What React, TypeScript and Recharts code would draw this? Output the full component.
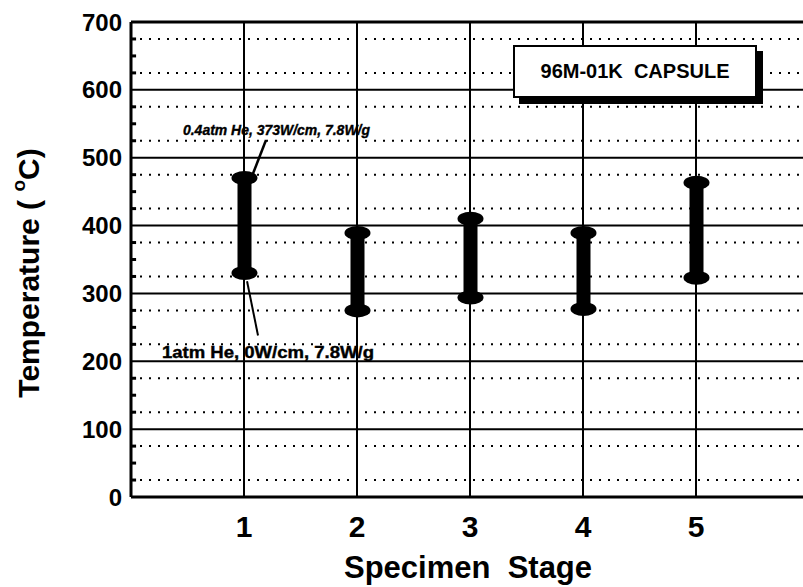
import { ComposedChart, Bar, XAxis, YAxis, CartesianGrid, ReferenceLine, ReferenceDot } from "recharts"

const stages = [1, 2, 3, 4, 5]
const lowTemps = [330, 275, 294, 277, 323]
const highTemps = [470, 389, 410, 389, 463]
const xTicks = [1, 2, 3, 4, 5]
const yTicks = [0, 100, 200, 300, 400, 500, 600, 700]
const minorY = [25, 50, 75, 125, 150, 175, 225, 250, 275, 325, 350, 375, 425, 450, 475, 525, 550, 575, 625, 650, 675]

const data = stages.map((s, i) => ({ stage: s, range: [lowTemps[i], highTemps[i]] }))

const font = "'Liberation Sans', Arial, sans-serif"

const Dumbbell = (props: any) => {
  const { x, y, width, height } = props
  const cx = x + width / 2
  return (
    <g fill="#000">
      <rect x={cx - 7} y={y} width={14} height={height} />
      <ellipse cx={cx} cy={y} rx={13} ry={7} />
      <ellipse cx={cx} cy={y + height} rx={13} ry={7} />
    </g>
  )
}

const XTick = (props: any) => {
  const { x, y, payload } = props
  return (
    <text x={x} y={y + 38} textAnchor="middle" fontFamily={font} fontWeight="bold" fontSize={30} fill="#000">
      {payload.value}
    </text>
  )
}

const YTick = (props: any) => {
  const { x, y, payload } = props
  return (
    <text x={x + 1} y={y} dy="0.36em" textAnchor="end" fontFamily={font} fontWeight="bold" fontSize={24} fill="#000">
      {payload.value}
    </text>
  )
}

export default function App() {
  return (
    <div
      style={{
        position: "absolute",
        left: 8,
        top: 8,
        width: 795,
        height: 579,
        overflow: "hidden",
        background: "#fff",
      }}
    >
      <ComposedChart width={830} height={579} data={data} margin={{ top: 14, right: 29, bottom: 0, left: 0 }}>
        <CartesianGrid horizontalValues={minorY} vertical={false} stroke="#000" strokeWidth={2} strokeDasharray="2 7" />
        <CartesianGrid horizontalValues={yTicks} verticalValues={xTicks} stroke="#000" strokeWidth={2} />
        <XAxis
          dataKey="stage"
          type="number"
          domain={[0, 6]}
          ticks={xTicks}
          allowDataOverflow
          height={90}
          tickLine={false}
          tickSize={0}
          axisLine={{ stroke: "#000", strokeWidth: 3 }}
          tick={<XTick />}
          label={{
            content: (p: any) => (
              <text
                x={p.viewBox.x + 337}
                y={p.viewBox.y + 81}
                textAnchor="middle"
                fontFamily={font}
                fontWeight="bold"
                fontSize={31}
                fill="#000"
                style={{ whiteSpace: "pre" }}
              >
                {"Specimen  Stage"}
              </text>
            ),
          }}
        />
        <YAxis
          type="number"
          domain={[0, 700]}
          ticks={yTicks}
          width={123}
          tickLine={false}
          tickSize={8}
          axisLine={{ stroke: "#000", strokeWidth: 3 }}
          tick={<YTick />}
          label={{
            content: () => (
              <text
                x={20}
                y={265}
                transform="rotate(-90 20 265)"
                textAnchor="middle"
                dominantBaseline="central"
                fontFamily={font}
                fontWeight="bold"
                fontSize={30}
                fill="#000"
                style={{ whiteSpace: "pre" }}
              >
                {"Temperature ( "}
                <tspan fontSize={19} dy={-10}>o</tspan>
                <tspan dy={10}>C)</tspan>
              </text>
            ),
          }}
        />
        <ReferenceLine y={700} stroke="#000" strokeWidth={3} />
        {minorY.map((v) => (
          <ReferenceLine
            key={v}
            segment={[{ x: 0, y: v }, { x: 0.045, y: v }]}
            stroke="#000"
            strokeWidth={3}
          />
        ))}
        <Bar dataKey="range" barSize={26} shape={<Dumbbell />} isAnimationActive={false} />
        <ReferenceLine segment={[{ x: 1.195, y: 526 }, { x: 1.071, y: 473 }]} stroke="#000" strokeWidth={2.5} />
        <ReferenceLine segment={[{ x: 1.027, y: 318 }, { x: 1.124, y: 238 }]} stroke="#000" strokeWidth={2} />
        <ReferenceDot
          x={0.46}
          y={533}
          r={0}
          ifOverflow="visible"
          shape={(p: any) => (
            <text
              x={p.cx}
              y={p.cy}
              fontFamily={font}
              fontWeight="bold"
              fontStyle="italic"
              fontSize={15}
              textLength={187}
              lengthAdjust="spacingAndGlyphs"
              fill="#000"
              stroke="#000"
              strokeWidth={0.4}
            >
              0.4atm He, 373W/cm, 7.8W/g
            </text>
          )}
        />
        <ReferenceDot
          x={0.274}
          y={205}
          r={0}
          ifOverflow="visible"
          shape={(p: any) => (
            <text
              x={p.cx}
              y={p.cy}
              fontFamily={font}
              fontWeight="bold"
              fontSize={16}
              textLength={212}
              lengthAdjust="spacingAndGlyphs"
              fill="#000"
              stroke="#000"
              strokeWidth={0.4}
            >
              1atm He, 0W/cm, 7.8W/g
            </text>
          )}
        />
      </ComposedChart>
      <div
        style={{
          position: "absolute",
          left: 505,
          top: 37,
          width: 240,
          height: 49,
          border: "2px solid #000",
          boxShadow: "6px 6px 0 #000",
          background: "#fff",
          display: "flex",
          alignItems: "center",
          justifyContent: "center",
          fontFamily: font,
          fontWeight: "bold",
          fontSize: 20,
          whiteSpace: "pre",
        }}
      >
        {"96M-01K  CAPSULE"}
      </div>
    </div>
  )
}
